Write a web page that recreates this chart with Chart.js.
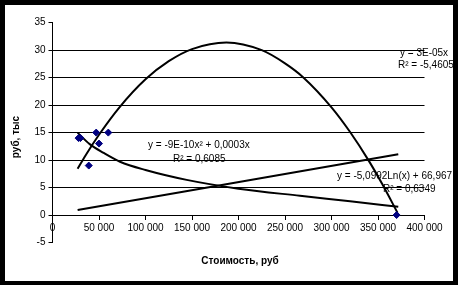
<!DOCTYPE html>
<html lang="ru">
<head>
<meta charset="UTF-8">
<title>Стоимость, руб</title>
<script src="https://cdn.jsdelivr.net/npm/chart.js"></script>
<style>
    html, body { margin: 0; padding: 0; background: #000; }
    .wrap { width: 458px; height: 285px; }
</style>
</head>
<body>
<div class="wrap"><canvas id="chart" width="458" height="285"></canvas></div>
<script>
// observed points
const costX = [28000, 30000, 39000, 47000, 50000, 60000, 370000];
const valueY = [14, 14, 9, 15, 13, 15, 0];

// trendlines
const linX = [27000, 371800];
const linY = [0.9, 11.05];
const polyX = [27000, 35000, 50000, 72000, 100000, 125000, 150000, 187000, 225000, 250000, 270000, 300000, 320000, 340000, 355000, 371000];
const polyY = [8.4, 10.7, 14.6, 19.6, 24.7, 28.0, 30.2, 31.4, 30.0, 27.6, 25.0, 19.6, 15.1, 9.9, 5.5, 0.4];
const logX = [27000, 40000, 55000, 72600, 100000, 144300, 200000, 266100, 320000, 371800];
const logY = [15.0, 12.9, 11.3, 9.7, 8.2, 6.4, 4.8, 3.5, 2.5, 1.5];

// axis ticks
const xTicks = [0, 50000, 100000, 150000, 200000, 250000, 300000, 350000, 400000];
const yTicks = [-5, 0, 5, 10, 15, 20, 25, 30, 35];

// trendline labels
const eqLabels = [
    ['y = 3E-05x', 400, 53],
    ['R² = -5,4605', 398, 65],
    ['y = -9E-10x² + 0,0003x', 148, 145],
    ['R² = 0,6085', 173, 159],
    ['y = -5,0992Ln(x) + 66,967', 337, 176],
    ['R² = 0,6349', 383, 189]
];

const FONT = '"Liberation Sans", Arial, sans-serif';

function pts(xs, ys) {
    return xs.map((x, i) => ({ x: x, y: ys[i] }));
}

function fmt(v) {
    return String(v).replace(/\B(?=(\d{3})+(?!\d))/g, ' ');
}

function trend(xs, ys) {
    return {
        data: pts(xs, ys),
        showLine: true,
        borderColor: '#000',
        borderWidth: 2,
        pointRadius: 0,
        fill: false,
        cubicInterpolationMode: 'monotone'
    };
}

const frame = {
    id: 'frame',
    beforeDraw(chart) {
        const c = chart.ctx;
        c.save();
        c.fillStyle = '#000';
        c.fillRect(0, 0, chart.width, chart.height);
        c.fillStyle = '#fff';
        c.fillRect(5, 5, 448, 276);
        c.restore();
    },
    afterDraw(chart) {
        const c = chart.ctx;
        c.save();
        c.fillStyle = '#000';
        c.textBaseline = 'middle';
        c.font = '10px ' + FONT;
        c.textAlign = 'left';
        eqLabels.forEach(l => c.fillText(l[0], l[1], l[2]));

        c.font = 'bold 10px ' + FONT;
        c.textAlign = 'center';
        c.fillText('Стоимость, руб', 240, 261);

        c.translate(16, 137);
        c.rotate(-Math.PI / 2);
        c.fillText('руб, тыс', 0, 0);
        c.restore();
    }
};

new Chart(document.getElementById('chart'), {
    type: 'scatter',
    data: {
        datasets: [
            {
                data: pts(costX, valueY),
                pointStyle: 'rectRot',
                pointRadius: 3.5,
                backgroundColor: '#000080',
                borderColor: '#000080',
                borderWidth: 1
            },
            trend(linX, linY),
            trend(polyX, polyY),
            trend(logX, logY)
        ]
    },
    options: {
        responsive: false,
        animation: false,
        devicePixelRatio: 1,
        layout: { padding: { left: 5, top: 22.7, right: 33.5, bottom: 42.5 } },
        plugins: { legend: { display: false }, tooltip: { enabled: false } },
        scales: {
            x: {
                type: 'linear',
                position: { y: 0 },
                min: 0,
                max: 400000,
                afterBuildTicks: s => { s.ticks = xTicks.map(v => ({ value: v })); },
                grid: { drawOnChartArea: false, drawTicks: true, tickLength: 4, tickColor: '#000' },
                border: { color: '#000', width: 1 },
                ticks: {
                    color: '#000',
                    font: { family: FONT, size: 10 },
                    padding: 3,
                    maxRotation: 0,
                    autoSkip: false,
                    callback: v => fmt(v)
                }
            },
            y: {
                min: -5,
                max: 35,
                afterBuildTicks: s => { s.ticks = yTicks.map(v => ({ value: v })); },
                afterFit: s => { s.width = 47.5; },
                grid: {
                    color: ctx => (ctx.tick && (ctx.tick.value === 35 || ctx.tick.value === -5)) ? 'rgba(0,0,0,0)' : '#000',
                    tickColor: '#000',
                    tickLength: 4
                },
                border: { color: '#000', width: 1 },
                ticks: {
                    color: '#000',
                    font: { family: FONT, size: 10 },
                    padding: 3
                }
            }
        }
    },
    plugins: [frame]
});
</script>
</body>
</html>
